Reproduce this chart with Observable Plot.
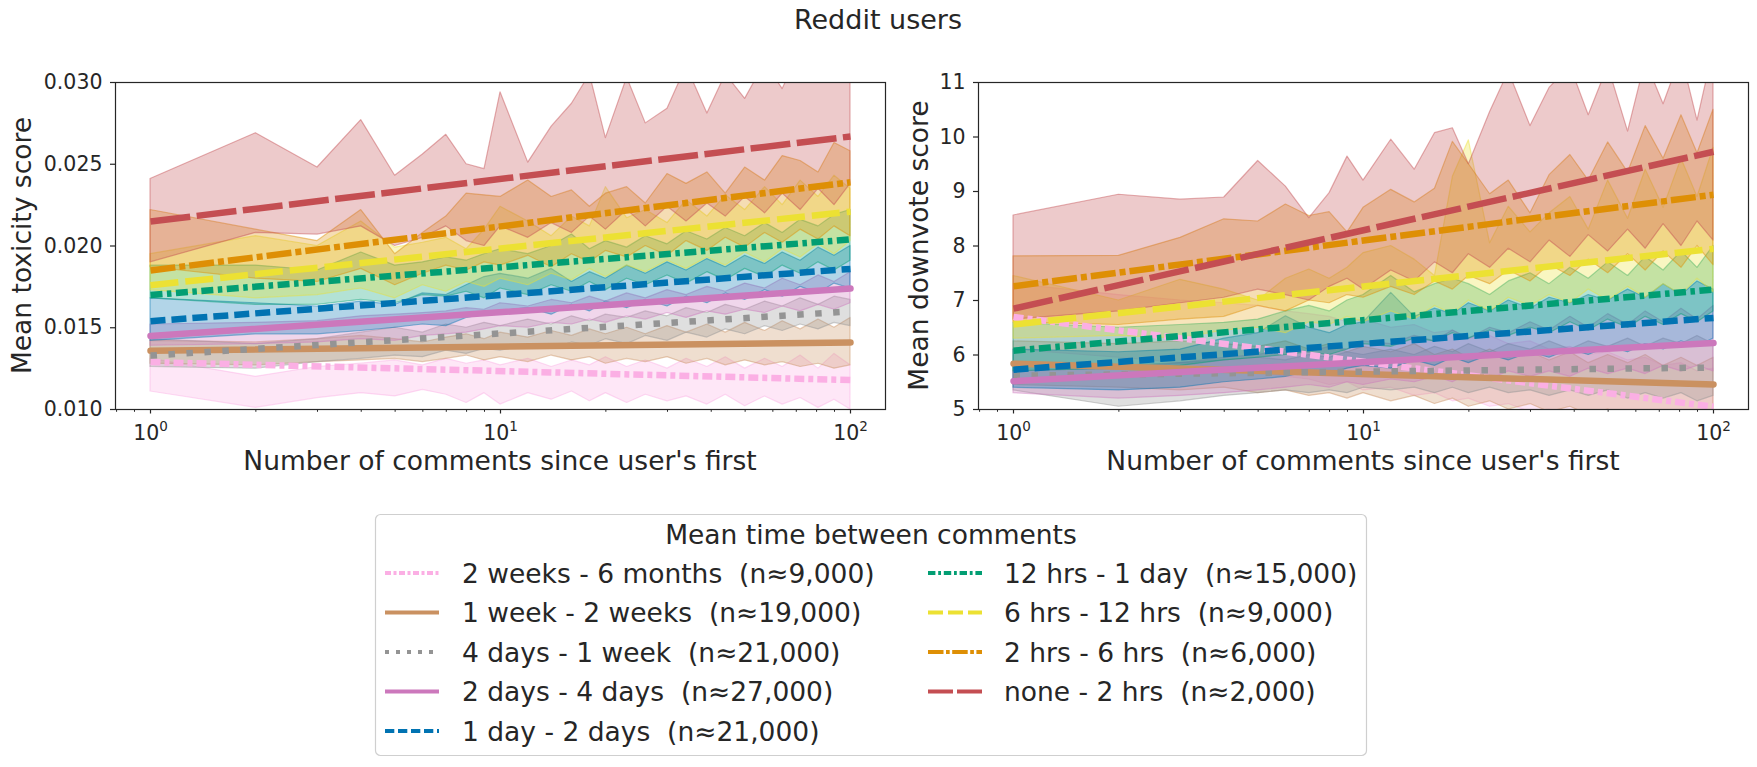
<!DOCTYPE html>
<html><head><meta charset="utf-8">
<script src="https://cdn.jsdelivr.net/npm/d3@7"></script>
<script src="https://cdn.jsdelivr.net/npm/@observablehq/plot@0.6"></script>
<style>
body{margin:0;background:#fff;width:1757px;height:767px;position:relative;overflow:hidden;font-family:"DejaVu Sans",sans-serif;color:#262626}
.abs{position:absolute}
</style></head><body>
<div id="left" class="abs" style="left:0;top:0"></div>
<div id="right" class="abs" style="left:870px;top:0"></div>
<svg id="overlay" class="abs" style="left:0;top:0;pointer-events:none" width="1757" height="767"></svg>
<script>
// ---- data (legend order) ----
const names = ["2 weeks - 6 months","1 week - 2 weeks","4 days - 1 week","2 days - 4 days","1 day - 2 days","12 hrs - 1 day","6 hrs - 12 hrs","2 hrs - 6 hrs","none - 2 hrs"];
const counts = ["9,000","19,000","21,000","27,000","21,000","15,000","9,000","6,000","2,000"];
const colors = ["#fbafe4","#ca9161","#949494","#cc78bc","#0173b2","#029e73","#ece133","#de8f05","#c44e52"];
const lineDash = ["10,4,5,4","","6.5,11.5","","15,6","12,4.5,4.5,4.5","28,7","25,4,6,4","40,6.5"];
const legendDash = ["6,2.5,3,2.5","","4,7","","9.3,3.7","7.4,2.8,2.8,2.8","15,5","15.5,2.5,3.7,2.5","25,4"];
const X = [1,2,3,4,5,6,7,8,9,10,12,14,16,18,20,23,26,30,34,39,44,50,57,64,72,81,90,100];

// Mean toxicity score: band bounds
const toxHi = [
 [.0131,.0120,.0126,.0128,.0130,.0127,.0131,.0128,.0130,.0127,.0131,.0126,.0130,.0127,.0132,.0126,.0130,.0125,.0131,.0126,.0132,.0125,.0131,.0126,.0133,.0125,.0134,.0127],
 [.0142,.0141,.0143,.0145,.0143,.0141,.0144,.0146,.0143,.0147,.0144,.0148,.0145,.0149,.0146,.0150,.0146,.0151,.0147,.0152,.0147,.0153,.0148,.0154,.0149,.0155,.0150,.0156],
 [.0143,.0140,.0143,.0147,.0150,.0147,.0152,.0150,.0153,.0151,.0155,.0152,.0157,.0154,.0158,.0156,.0160,.0157,.0162,.0159,.0164,.0161,.0166,.0163,.0168,.0164,.0169,.0167],
 [.0152,.0153,.0154,.0157,.0158,.0159,.0160,.0162,.0161,.0165,.0163,.0167,.0165,.0169,.0166,.0171,.0168,.0173,.0170,.0175,.0172,.0177,.0174,.0180,.0176,.0182,.0178,.0184],
 [.0168,.0165,.0163,.0166,.0164,.0171,.0170,.0176,.0181,.0183,.0180,.0186,.0178,.0184,.0180,.0188,.0183,.0190,.0185,.0192,.0187,.0194,.0189,.0196,.0191,.0199,.0194,.0200],
 [.0188,.0188,.0185,.0196,.0188,.0190,.0193,.0191,.0195,.0198,.0195,.0200,.0207,.0198,.0203,.0199,.0206,.0201,.0209,.0204,.0211,.0206,.0214,.0208,.0216,.0212,.0219,.0222],
 [.0195,.0206,.0200,.0215,.0199,.0202,.0205,.0198,.0210,.0224,.0215,.0206,.0218,.0212,.0236,.0217,.0222,.0214,.0228,.0218,.0231,.0222,.0236,.0225,.0240,.0230,.0243,.0235],
 [.0222,.0210,.0203,.0222,.0195,.0208,.0218,.0232,.0231,.0230,.0240,.0230,.0234,.0224,.0232,.0236,.0226,.0244,.0238,.0245,.0232,.0248,.0240,.0255,.0252,.0245,.0263,.0258],
 [.0241,.0269,.0248,.0277,.0243,.0256,.0268,.0250,.0247,.0294,.0251,.0273,.0287,.0305,.0266,.0303,.0275,.0284,.0310,.0281,.0305,.0290,.0312,.0296,.0320,.0300,.0325,.0330]
];
const toxLo = [
 [.0111,.0101,.0107,.0110,.0108,.0112,.0109,.0104,.0110,.0103,.0110,.0106,.0111,.0105,.0110,.0104,.0109,.0105,.0108,.0103,.0109,.0102,.0108,.0103,.0107,.0101,.0106,.0100],
 [.0128,.0127,.0129,.0130,.0131,.0129,.0131,.0133,.0130,.0132,.0129,.0133,.0130,.0132,.0128,.0131,.0129,.0132,.0128,.0131,.0127,.0130,.0127,.0129,.0126,.0128,.0125,.0127],
 [.0126,.0125,.0129,.0131,.0133,.0132,.0136,.0134,.0137,.0136,.0139,.0137,.0141,.0139,.0143,.0140,.0145,.0142,.0147,.0144,.0149,.0146,.0151,.0148,.0152,.0149,.0153,.0151],
 [.0139,.0140,.0141,.0143,.0142,.0145,.0146,.0147,.0149,.0151,.0150,.0153,.0152,.0155,.0153,.0157,.0155,.0159,.0156,.0160,.0158,.0161,.0159,.0163,.0160,.0164,.0161,.0165],
 [.0142,.0146,.0146,.0148,.0150,.0152,.0151,.0156,.0158,.0160,.0162,.0158,.0164,.0160,.0166,.0162,.0167,.0163,.0169,.0165,.0171,.0167,.0173,.0169,.0175,.0171,.0177,.0174],
 [.0168,.0164,.0164,.0167,.0165,.0170,.0169,.0172,.0168,.0174,.0170,.0176,.0172,.0178,.0173,.0180,.0176,.0182,.0177,.0184,.0179,.0186,.0181,.0188,.0183,.0190,.0185,.0191],
 [.0173,.0168,.0170,.0174,.0168,.0176,.0172,.0178,.0175,.0180,.0176,.0183,.0179,.0186,.0181,.0188,.0184,.0191,.0186,.0193,.0188,.0196,.0190,.0198,.0193,.0201,.0195,.0203],
 [.0187,.0180,.0178,.0186,.0176,.0183,.0188,.0185,.0190,.0188,.0194,.0187,.0195,.0190,.0197,.0193,.0200,.0194,.0203,.0197,.0205,.0199,.0208,.0202,.0210,.0204,.0212,.0206],
 [.0190,.0208,.0207,.0212,.0200,.0205,.0212,.0203,.0200,.0212,.0205,.0214,.0208,.0218,.0210,.0222,.0212,.0224,.0215,.0226,.0218,.0230,.0220,.0232,.0222,.0235,.0225,.0238]
];
const toxStart = [0.0129,0.0136,0.0133,0.0145,0.0154,0.0170,0.0176,0.0185,0.0215];
const toxEnd   = [0.0118,0.0141,0.0160,0.0174,0.0186,0.0204,0.0221,0.0239,0.0267];

// Mean downvote score: band bounds
const downHi = [
 [7.30,7.10,7.00,6.95,6.90,6.80,6.75,6.70,6.60,6.65,6.50,6.55,6.40,6.45,6.30,6.35,6.20,6.25,6.10,6.15,6.00,6.05,5.90,5.95,5.80,5.85,5.70,5.75],
 [6.25,6.20,6.25,6.20,6.15,6.25,6.10,6.20,6.05,6.15,6.05,6.20,6.00,6.10,5.95,6.10,5.95,6.05,5.90,6.05,5.85,6.00,5.85,6.00,5.80,5.95,5.80,5.95],
 [5.85,5.80,5.85,5.90,5.95,5.90,6.00,5.95,6.05,6.00,6.10,6.00,6.15,6.05,6.20,6.05,6.20,6.10,6.25,6.10,6.25,6.15,6.30,6.15,6.30,6.20,6.35,6.20],
 [5.70,5.75,5.85,5.95,6.00,6.10,6.05,6.15,6.10,6.25,6.20,6.35,6.25,6.45,6.30,6.50,6.40,6.60,6.45,6.70,6.50,6.75,6.55,6.80,6.60,6.85,6.65,6.90],
 [6.10,6.05,6.10,6.30,6.40,6.71,6.50,6.40,6.55,6.60,7.14,6.70,6.85,6.75,6.95,6.80,7.00,6.85,7.05,6.95,7.10,7.00,7.20,7.05,7.30,7.10,7.35,7.20],
 [6.59,6.50,6.55,6.59,6.65,6.80,6.90,6.80,7.00,7.10,7.45,7.15,7.30,7.40,7.30,7.10,7.35,7.50,7.30,7.60,7.40,7.70,7.45,7.80,7.55,7.90,7.60,8.00],
 [7.45,7.00,7.38,7.20,7.00,7.40,7.57,7.40,7.60,7.87,8.00,7.75,7.45,9.27,9.94,8.05,8.72,8.25,8.60,8.90,8.30,9.20,8.50,9.40,8.70,9.60,8.90,9.80],
 [7.81,7.82,8.15,8.49,8.45,8.76,8.55,8.62,8.25,8.70,9.03,8.80,9.05,9.91,9.50,8.95,9.20,8.60,9.30,9.67,9.20,9.90,9.35,10.2,9.60,10.4,9.70,10.5],
 [8.56,8.94,8.85,8.89,9.56,9.09,8.51,8.97,9.64,9.20,9.95,9.40,10.07,10.16,9.50,10.46,11.2,10.2,10.9,11.3,10.4,11.3,10.1,11.4,10.6,11.5,10.3,11.6]
];
const downLo = [
 [6.10,5.95,5.85,5.75,5.70,5.60,5.55,5.45,5.50,5.35,5.40,5.25,5.30,5.15,5.20,5.05,5.10,4.95,5.00,4.85,4.90,4.75,4.80,4.65,4.70,4.55,4.60,4.50],
 [5.45,5.40,5.35,5.40,5.30,5.35,5.25,5.30,5.20,5.30,5.15,5.25,5.10,5.20,5.05,5.15,5.00,5.10,4.95,5.05,4.90,5.00,4.85,4.95,4.80,4.90,4.80,4.85],
 [5.35,5.05,5.15,5.25,5.30,5.35,5.30,5.35,5.30,5.40,5.35,5.40,5.30,5.40,5.30,5.40,5.30,5.35,5.25,5.35,5.25,5.35,5.20,5.30,5.20,5.30,5.15,5.25],
 [5.30,5.20,5.25,5.30,5.35,5.40,5.45,5.40,5.50,5.45,5.55,5.50,5.60,5.50,5.65,5.55,5.70,5.60,5.70,5.60,5.75,5.65,5.75,5.65,5.80,5.70,5.80,5.70],
 [5.40,5.35,5.40,5.50,5.55,5.60,5.70,5.65,5.75,5.80,5.75,5.90,5.80,5.95,5.85,6.00,5.90,6.05,5.95,6.10,6.00,6.15,6.05,6.20,6.10,6.25,6.15,6.30],
 [5.70,5.75,5.80,5.90,5.95,6.00,6.05,6.00,6.10,6.20,6.15,6.30,6.25,6.40,6.30,6.45,6.35,6.50,6.40,6.60,6.45,6.65,6.50,6.70,6.55,6.75,6.60,6.80],
 [6.30,6.35,6.30,6.45,6.50,6.40,6.60,6.55,6.70,6.60,6.80,6.65,6.90,6.75,7.00,6.80,7.05,6.90,7.10,6.95,7.20,7.00,7.25,7.05,7.30,7.10,7.40,7.15],
 [6.60,6.55,6.65,6.70,6.90,6.80,7.00,6.95,7.10,7.05,7.25,7.10,7.35,7.20,7.45,7.30,7.55,7.35,7.65,7.45,7.75,7.50,7.85,7.55,7.90,7.60,8.00,7.65],
 [6.65,6.80,6.95,7.05,7.20,7.10,7.00,7.25,7.40,7.20,7.55,7.35,7.70,7.50,7.85,7.60,7.95,7.70,8.10,7.80,8.20,7.90,8.30,7.95,8.40,8.00,8.45,8.10]
];
const downStart = [6.70,5.84,5.62,5.52,5.73,6.08,6.56,7.26,6.85];
const downEnd   = [5.05,5.46,5.77,6.22,6.68,7.20,7.95,8.94,9.73];

const toxTicks = [0.010,0.015,0.020,0.025,0.030];
const downTicks = [5,6,7,8,9,10,11];
const xTicks = [1,10,100];
const xTickExp = ["0","1","2"];
const xMinor = [0.8,0.9,2,3,4,5,6,7,8,9,20,30,40,50,60,70,80,90];

const INK = "#262626";
function panel(lo, hi, start, end, yDomain, yTicks, yFmt, width, mL, mR) {
  const marks = [];
  names.forEach((n, i) => {
    const rows = X.map((x, j) => ({x, lo: lo[i][j], hi: hi[i][j]}));
    marks.push(Plot.areaY(rows, {x: "x", y1: "lo", y2: "hi", fill: colors[i], fillOpacity: 0.3,
      stroke: colors[i], strokeOpacity: 0.45, strokeWidth: 1.2, clip: true}));
  });
  names.forEach((n, i) => {
    const pts = [{x: 1, y: start[i]}, {x: 100, y: end[i]}];
    marks.push(Plot.line(pts, {x: "x", y: "y", stroke: colors[i], strokeWidth: 6.5,
      strokeDasharray: lineDash[i] || undefined, strokeLinecap: lineDash[i] ? "butt" : "round", clip: true}));
  });
  marks.push(Plot.axisX(xMinor, {tickSize: 2.8, tickFormat: () => "", label: null, stroke: INK, strokeWidth: 1}));
  marks.push(Plot.axisX(xTicks, {tickSize: 4.5, tickPadding: 11, label: null, stroke: INK, strokeWidth: 1.2, fontSize: 20.5,
    tickFormat: d => "10^" + xTickExp[xTicks.indexOf(d)]}));
  marks.push(Plot.axisY(yTicks, {tickSize: 5, tickPadding: 8, label: null, stroke: INK, strokeWidth: 1.2, fontSize: 20.5, tickFormat: yFmt}));
  marks.push(Plot.frame({stroke: INK, strokeWidth: 1.2}));
  const chart = Plot.plot({
    width, height: 480, marginTop: 82, marginBottom: 71, marginLeft: mL, marginRight: mR,
    x: {type: "log", domain: [Math.pow(10, -0.1), Math.pow(10, 2.1)], label: null},
    y: {domain: yDomain, label: null},
    style: {fontFamily: "DejaVu Sans", fontSize: "20.5px", color: INK, background: "transparent", overflow: "visible", maxWidth: "none"},
    marks
  });
  // render "10^k" tick labels as base + superscript
  d3.select(chart).selectAll("text").each(function() {
    const t = this.textContent;
    if (/^10\^\d$/.test(t)) {
      const exp = t.slice(3);
      this.textContent = "";
      const sel = d3.select(this);
      sel.append("tspan").text("10");
      sel.append("tspan").attr("font-size", 13.5).attr("dy", -8.6).text(exp);
    }
  });
  return chart;
}

document.getElementById("left").append(panel(toxLo, toxHi, toxStart, toxEnd, [0.010, 0.030], toxTicks, d => d.toFixed(3), 900, 115, 15));
document.getElementById("right").append(panel(downLo, downHi, downStart, downEnd, [5, 11], downTicks, d => String(d), 887, 108, 9));

// ---- titles, axis labels and legend ----
const svg = d3.select("#overlay").style("font-family", "DejaVu Sans").style("fill", INK);
svg.append("text").attr("x", 878).attr("y", 29).attr("text-anchor", "middle").attr("font-size", 27).text("Reddit users");
svg.append("text").attr("x", 500).attr("y", 470).attr("text-anchor", "middle").attr("font-size", 26.5).text("Number of comments since user's first");
svg.append("text").attr("x", 1363).attr("y", 470).attr("text-anchor", "middle").attr("font-size", 26.5).text("Number of comments since user's first");
svg.append("text").attr("transform", "translate(31,245.5) rotate(-90)").attr("text-anchor", "middle").attr("font-size", 26.5).text("Mean toxicity score");
svg.append("text").attr("transform", "translate(928,245.5) rotate(-90)").attr("text-anchor", "middle").attr("font-size", 26.5).text("Mean downvote score");

const lg = svg.append("g").attr("transform", "translate(375,514)");
lg.append("rect").attr("x", 0.5).attr("y", 0.5).attr("width", 991).attr("height", 241).attr("rx", 5)
  .attr("fill", "#fff").attr("fill-opacity", 0.8).attr("stroke", "#cfcfcf").attr("stroke-width", 1.2);
lg.append("text").attr("x", 496).attr("y", 29.5).attr("text-anchor", "middle").attr("font-size", 26.5).text("Mean time between comments");
const rowY = [59, 98.5, 138, 177.5, 217];
names.forEach((n, i) => {
  const col = i < 5 ? 0 : 1;
  const r = i < 5 ? i : i - 5;
  const lx = col === 0 ? 10 : 553;
  const tx = col === 0 ? 87 : 629;
  const y = rowY[r];
  lg.append("line").attr("x1", lx).attr("x2", lx + 54).attr("y1", y).attr("y2", y)
    .attr("stroke", colors[i]).attr("stroke-width", 4)
    .attr("stroke-dasharray", legendDash[i] || null);
  lg.append("text").attr("x", tx).attr("y", y + 9.7).attr("font-size", 26.5)
    .style("white-space", "pre").text(`${n}  (n≈${counts[i]})`);
});
</script>
</body></html>
